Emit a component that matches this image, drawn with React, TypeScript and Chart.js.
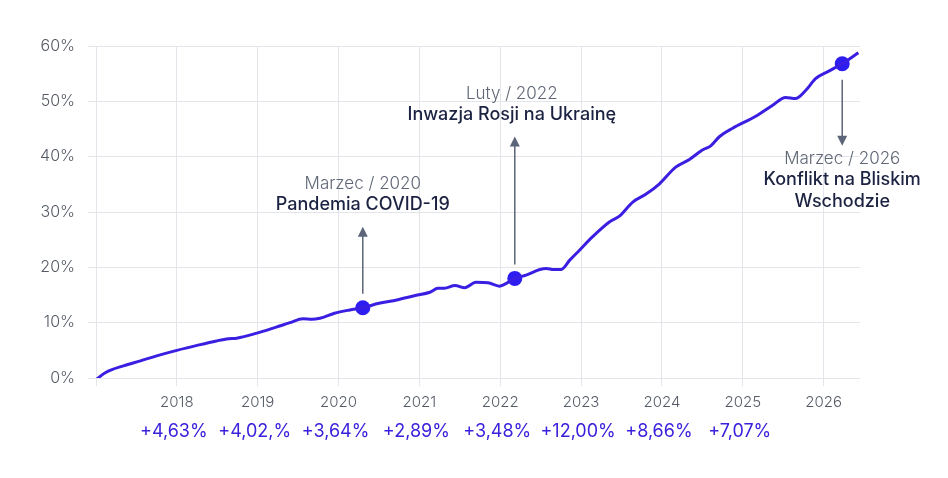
import { useEffect, useRef } from 'react';
import { Chart, registerables } from 'chart.js';

Chart.register(...registerables);

// index line, x in fractional years
const dates = [
  2017.0, 2017.12, 2017.34, 2017.55, 2017.75, 2018.0, 2018.25, 2018.49, 2018.64, 2018.74,
  2018.99, 2019.23, 2019.4, 2019.56, 2019.67, 2019.77, 2019.95, 2020.14, 2020.3, 2020.5,
  2020.72, 2020.95, 2021.13, 2021.23, 2021.31, 2021.44, 2021.56, 2021.7, 2021.85, 2021.99,
  2022.05, 2022.18, 2022.32, 2022.49, 2022.57, 2022.66, 2022.75, 2022.86, 2022.98, 2023.14,
  2023.35, 2023.47, 2023.64, 2023.8, 2023.97, 2024.17, 2024.34, 2024.5, 2024.6, 2024.71,
  2024.87, 2025.16, 2025.37, 2025.53, 2025.65, 2025.78, 2025.9, 2026.07, 2026.23, 2026.43,
];
const values = [
  -0.3, 1.0, 2.2, 3.1, 4.0, 5.0, 5.9, 6.7, 7.1, 7.2,
  8.1, 9.2, 10.0, 10.7, 10.6, 10.8, 11.7, 12.3, 12.7, 13.5,
  14.1, 14.9, 15.5, 16.2, 16.2, 16.7, 16.3, 17.3, 17.2, 16.6,
  16.9, 18.0, 18.6, 19.6, 19.8, 19.6, 19.6, 21.3, 23.1, 25.5,
  28.2, 29.2, 31.8, 33.2, 35.1, 38.1, 39.5, 41.2, 41.9, 43.6,
  45.1, 47.3, 49.3, 50.7, 50.5, 52.0, 54.1, 55.5, 56.8, 58.8,
];

const eventDates = [2020.3, 2022.18, 2026.23];
const eventValues = [12.7, 18.0, 56.8];
const eventTitles = ['Marzec / 2020', 'Luty / 2022', 'Marzec / 2026'];
const eventLabels = [['Pandemia COVID-19'], ['Inwazja Rosji na Ukrainę'], ['Konflikt na Bliskim', 'Wschodzie']];

const years = [2018, 2019, 2020, 2021, 2022, 2023, 2024, 2025];
const yearlyChange = ['+4,63%', '+4,02,%', '+3,64%', '+2,89%', '+3,48%', '+12,00%', '+8,66%', '+7,07%'];

const FONT = 'Inter, "Noto Sans", sans-serif';

const annotations = {
  id: 'annotations',
  afterDatasetsDraw(chart: Chart) {
    const { ctx } = chart;
    const xs = chart.scales.x;
    const ys = chart.scales.y;
    ctx.save();
    ctx.textAlign = 'center';
    ctx.textBaseline = 'middle';

    eventDates.forEach((d, i) => {
      const px = xs.getPixelForValue(d);
      const py = ys.getPixelForValue(eventValues[i]);
      const down = i === 2;
      const top = i === 1 ? py - 142 : py - 81;
      const from = down ? py + 16 : py - 14;
      const to = down ? py + 82 : top;

      ctx.strokeStyle = '#5b6478';
      ctx.fillStyle = '#5b6478';
      ctx.lineWidth = 1.5;
      ctx.beginPath();
      ctx.moveTo(px, from);
      ctx.lineTo(px, down ? to - 6 : to + 6);
      ctx.stroke();
      ctx.beginPath();
      if (down) {
        ctx.moveTo(px, to);
        ctx.lineTo(px - 5, to - 10);
        ctx.lineTo(px + 5, to - 10);
      } else {
        ctx.moveTo(px, to);
        ctx.lineTo(px - 5, to + 10);
        ctx.lineTo(px + 5, to + 10);
      }
      ctx.fill();

      const titleY = down ? to + 13 : to - 43;
      const tx = i === 1 ? px - 3 : px;
      ctx.font = `300 17px ${FONT}`;
      ctx.fillStyle = '#5f6675';
      ctx.fillText(eventTitles[i], tx, titleY);
      ctx.font = `500 18px ${FONT}`;
      ctx.fillStyle = '#1c2342';
      eventLabels[i].forEach((l, j) => ctx.fillText(l, tx, titleY + 21 + j * 22));
    });

    ctx.font = `400 18px ${FONT}`;
    ctx.fillStyle = '#3a21dc';
    years.forEach((y, i) => {
      ctx.fillText(yearlyChange[i], xs.getPixelForValue(y) - 3, 432);
    });
    ctx.restore();
  },
};

export default function App() {
  const canvasRef = useRef<HTMLCanvasElement>(null);

  useEffect(() => {
    if (!canvasRef.current) return;
    const chart = new Chart(canvasRef.current, {
      type: 'line',
      data: {
        datasets: [
          {
            data: dates.map((d, i) => ({ x: d, y: values[i] })),
            borderColor: '#3a1fe2',
            borderWidth: 3,
            pointRadius: 0,
            tension: 0.3,
            cubicInterpolationMode: 'monotone',
          },
          {
            data: eventDates.map((d, i) => ({ x: d, y: eventValues[i] })),
            showLine: false,
            pointRadius: 7.5,
            pointBackgroundColor: '#2d1df0',
            pointBorderWidth: 0,
          },
        ],
      },
      options: {
        animation: false,
        responsive: true,
        maintainAspectRatio: false,
        layout: { padding: { left: 0, top: 46, right: 88, bottom: 0 } },
        plugins: { legend: { display: false }, tooltip: { enabled: false } },
        scales: {
          x: {
            type: 'linear',
            min: 2017,
            max: 2026.45,
            border: { display: false },
            grid: { color: '#e3e5ea', tickLength: 8 },
            afterFit: (s: any) => { s.height = 100; },
            ticks: {
              stepSize: 1,
              includeBounds: false,
              padding: 7,
              color: '#555b66',
              font: { family: FONT, size: 15, weight: 300 },
              callback: (v: any) => (v === 2017 ? '' : String(v)),
            },
          },
          y: {
            min: 0,
            max: 60,
            border: { display: false },
            grid: { color: '#e3e5ea', tickLength: 8 },
            afterFit: (s: any) => { s.width = 96; },
            ticks: {
              stepSize: 10,
              padding: 13,
              color: '#555b66',
              font: { family: FONT, size: 16, weight: 300 },
              callback: (v: any) => `${v}%`,
            },
          },
        },
      },
      plugins: [annotations],
    });
    return () => chart.destroy();
  }, []);

  return (
    <div style={{ position: 'fixed', left: 0, top: 0, width: 948, height: 478, background: '#fff' }}>
      <canvas ref={canvasRef} />
    </div>
  );
}
